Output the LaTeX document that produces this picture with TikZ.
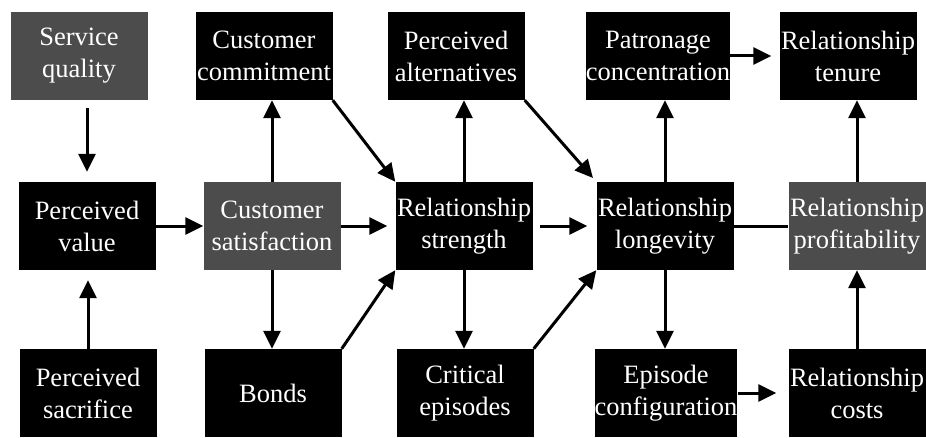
\documentclass[tikz,border=0pt]{standalone}
\usepackage{fontspec}
\setmainfont{Liberation Serif}
\usetikzlibrary{arrows.meta, positioning, calc}
\definecolor{dither}{gray}{0.3}
\tikzset{
    factor/.style={
        rectangle,
        fill=black,
        text=white,
        minimum width=137pt,
        minimum height=88pt,
        inner sep=0pt,
        align=center,
        font=\fontsize{26.5}{32}\selectfont,
    },
    driver/.style={
        factor,
        fill=dither,
    },
    link/.style={
        ->,
        line width=3pt,
    },
}

\begin{document}
\begin{tikzpicture}[x=1pt,y=1pt,>={Triangle[length=18pt,width=17pt]}]
      \useasboundingbox (0,0) rectangle (926,437);

      % top row
      \node [driver] (SQ) at (79,381) {Service\\quality};
      \node [factor] (CC) at (264,381) {Customer\\commitment};
      \node [factor] (PA) at (456,381) {Perceived\\alternatives};
      \node [factor] (PC) at (658,381) {Patronage\\concentration};
      \node [factor] (RT) at (848,381) {Relationship\\tenure};

      % middle row
      \node [factor] (PV) at (87,211) {Perceived\\value};
      \node [driver] (CS) at (272,211) {Customer\\satisfaction};
      \node [factor] (RS) at (464,211) {Relationship\\strength};
      \node [factor] (RL) at (665,211) {Relationship\\longevity};
      \node [driver] (RP) at (857,211) {Relationship\\profitability};

      % bottom row
      \node [factor] (PS) at (88,44) {Perceived\\sacrifice};
      \node [factor] (BD) at (273,44) {Bonds};
      \node [factor] (CE) at (465,44) {Critical\\episodes};
      \node [factor] (EC) at (666,44) {Episode\\configuration};
      \node [factor] (RC) at (857,44) {Relationship\\costs};

      \draw[link, shorten <=8pt, shorten >=10pt] (PV.north |- SQ.south) -- (PV.north);
      \draw[link, shorten >=10pt] (PS.north) -- (PS.north |- PV.south);
      \draw[link] (PV.east) -- (CS.west);
      \draw[link] (CS.north) -- (CS.north |- CC.south);
      \draw[link] (CS.south) -- (CS.south |- BD.north);
      \draw[link, shorten >=8pt] (CS.east) -- (RS.west);
      \draw[link] (CC.south east) -- (RS.north west);
      \draw[link] (BD.north east) -- (RS.south west);
      \draw[link] (RS.north) -- (RS.north |- PA.south);
      \draw[link] (RS.south) -- (RS.south |- CE.north);
      \draw[link, shorten <=7pt, shorten >=9pt] (RS.east) -- (RL.west);
      \draw[link, shorten >=5pt] (PA.south east) -- (RL.north west);
      \draw[link] (CE.north east) -- (RL.south west);
      \draw[link] (RL.north) -- (RL.north |- PC.south);
      \draw[link] (RL.south) -- (RL.south |- EC.north);
      \draw[line width=3pt] (RL.east) -- (RP.west);
      \draw[link, shorten >=8pt] (PC.east) -- (PC.east -| RT.west);
      \draw[link, shorten >=12pt] (EC.east) -- (RC.west);
      \draw[link] (RC.north) -- (RP.south);
      \draw[link] (RP.north) -- (RP.north |- RT.south);
\end{tikzpicture}
\end{document}
